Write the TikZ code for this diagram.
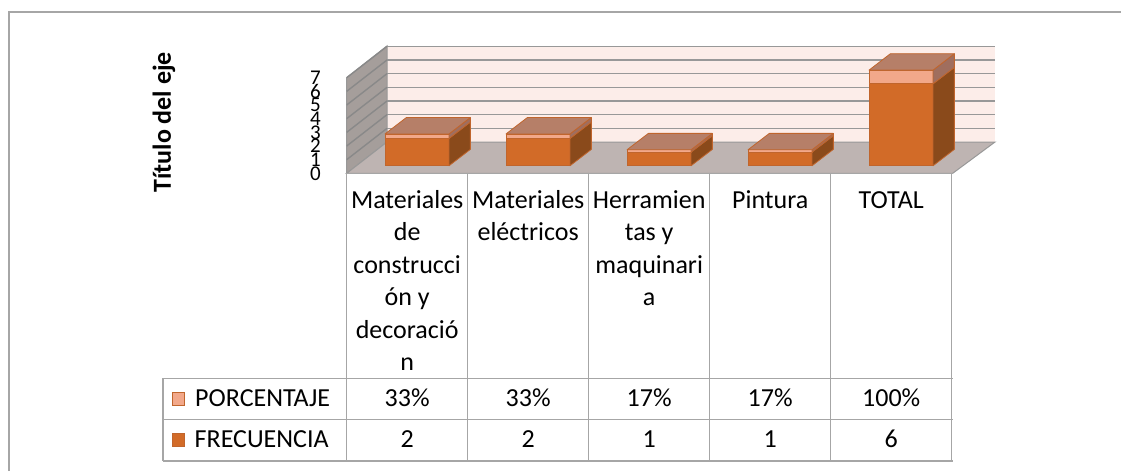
\documentclass[tikz,border=0pt]{standalone}
\usepackage{fontspec}
\setmainfont{Carlito}
\definecolor{cFront}{HTML}{D26B28}
\definecolor{cSide}{HTML}{8A4A1B}
\definecolor{cFrontP}{HTML}{F2A88A}
\definecolor{cSideP}{HTML}{A06E5E}
\definecolor{cTop}{HTML}{B67F68}
\definecolor{cEdge}{HTML}{C0652D}
\definecolor{cWall}{HTML}{FCEDE9}
\definecolor{cSideWall}{HTML}{A59E9B}
\definecolor{cFloor}{HTML}{BEB4B2}
\definecolor{cGrid}{HTML}{989898}
\definecolor{cLine}{HTML}{A6A6A6}
\newcommand{\drawbar}[3]{%
 \pgfmathsetmacro{\bxl}{#1-32+41*0.24}%
 \pgfmathsetmacro{\bxr}{#1+32+41*0.24}%
 \pgfmathsetmacro{\byb}{173.3-31.5*0.24}%
 \pgfmathsetmacro{\byf}{\byb-13.66*#2}%
 \pgfmathsetmacro{\byp}{\byf-13.66*#3}%
 \pgfmathsetmacro{\bdx}{41*0.52}%
 \pgfmathsetmacro{\bdy}{31.5*0.52}%
 \filldraw[frontF] (\bxl,\byb) rectangle (\bxr,\byf);
 \filldraw[sideF] (\bxr,\byb) -- ++(\bdx,-\bdy) -- ({\bxr+\bdx},{\byf-\bdy}) -- (\bxr,\byf) -- cycle;
 \filldraw[frontP] (\bxl,\byf) rectangle (\bxr,\byp);
 \filldraw[sideP] (\bxr,\byf) -- ++(\bdx,-\bdy) -- ({\bxr+\bdx},{\byp-\bdy}) -- (\bxr,\byp) -- cycle;
 \filldraw[topface] (\bxl,\byp) -- (\bxr,\byp) -- ++(\bdx,-\bdy) -- ({\bxl+\bdx},{\byp-\bdy}) -- cycle;
}
\begin{document}
\begin{tikzpicture}[x=1pt,y=-1pt,
  frontF/.style={fill=cFront,draw=cEdge,line width=0.8pt,line join=round},
  sideF/.style={fill=cSide,draw=cEdge,line width=0.8pt,line join=round},
  frontP/.style={fill=cFrontP,draw=cEdge,line width=0.8pt,line join=round},
  sideP/.style={fill=cSideP,draw=cEdge,line width=0.8pt,line join=round},
  topface/.style={fill=cTop,draw=cEdge,line width=0.8pt,line join=round},
  gridline/.style={draw=cGrid,line width=1.6pt},
  tableline/.style={draw=cLine,line width=1.5pt},
  axlab/.style={font=\fontsize{21}{21}\selectfont,inner sep=0pt,anchor=east},
  cell/.style={font=\fontsize{26}{26}\selectfont,inner sep=0pt,anchor=base},
  rowlab/.style={font=\fontsize{26}{26}\selectfont,inner sep=0pt,anchor=base west},
  ]
\useasboundingbox (0,0) rectangle (1121,471);
\fill[white] (0,0) rectangle (1121,471);
% outer frame
\draw[tableline] (9,471) -- (9,12) -- (1121,12);
% back wall
\fill[cWall] (387,46) rectangle (995,142);
\foreach \v in {1,...,7}
  \draw[gridline] (387,{142-13.67*\v}) -- (995,{142-13.67*\v});
% side wall
\filldraw[fill=cSideWall,draw=cGrid,line width=1pt] (346.7,173.3) -- (346.7,77.7) -- (387,46) -- (387,142) -- cycle;
\foreach \v in {1,...,7}
  \draw[draw=cGrid!90!black,line width=1.4pt] (346.7,{173.3-13.66*\v}) -- (387,{142-13.67*\v});
% floor
\filldraw[fill=cFloor,draw=cGrid,line width=1pt] (346.7,173.3) -- (952.7,173.3) -- (995,142) -- (387,142) -- cycle;
% bars
\drawbar{407.2}{2}{0.33}
\drawbar{528.2}{2}{0.33}
\drawbar{649.2}{1}{0.17}
\drawbar{770.2}{1}{0.17}
\drawbar{891.2}{6}{1}
% axis labels
\foreach \v in {0,...,7}
  \node[axlab] (tick\v) at (321,{173.3-13.66*\v}) {\v};
% axis title
\node[font=\fontsize{26}{26}\selectfont\bfseries,rotate=90,inner sep=0pt] (title) at (164,122.3) {Título del eje};
% table lines
\draw[tableline] (346.7,173.3) -- (952.7,173.3);
\foreach \i in {0,...,5}
  \draw[tableline] ({346.7+121*\i},173.3) -- ({346.7+121*\i},461);
\draw[tableline] (163,378.3) -- (952.7,378.3);
\draw[tableline] (163,419.3) -- (952.7,419.3);
\draw[tableline] (163,461) -- (952.7,461);
\draw[tableline] (163,378.3) -- (163,461);
% category labels
\node[cell] (c1a) at (407.2,208) {Materiales};
\node[cell] (c1b) at (407.2,240.5) {de};
\node[cell] (c1c) at (407.2,273) {construcci};
\node[cell] (c1d) at (407.2,305.5) {ón y};
\node[cell] (c1e) at (407.2,338) {decoració};
\node[cell] (c1f) at (407.2,370.5) {n};
\node[cell] (c2a) at (528.2,208) {Materiales};
\node[cell] (c2b) at (528.2,240.5) {eléctricos};
\node[cell] (c3a) at (649.2,208) {Herramien};
\node[cell] (c3b) at (649.2,240.5) {tas y};
\node[cell] (c3c) at (649.2,273) {maquinari};
\node[cell] (c3d) at (649.2,305.5) {a};
\node[cell] (c4a) at (770.2,208) {Pintura};
\node[cell] (c5a) at (891.2,208) {TOTAL};
% legend
\filldraw[fill=cFrontP,draw=cEdge,line width=0.8pt] (172,392) rectangle (184,405);
\node[rowlab] (lp) at (195,406.5) {PORCENTAJE};
\filldraw[fill=cFront,draw=cEdge,line width=0.8pt] (172,433) rectangle (184,446);
\node[rowlab] (lf) at (194.5,447.5) {FRECUENCIA};
% values
\node[cell] (p1) at (407.2,406.5) {33\%};
\node[cell] (p2) at (528.2,406.5) {33\%};
\node[cell] (p3) at (649.2,406.5) {17\%};
\node[cell] (p4) at (770.2,406.5) {17\%};
\node[cell] (p5) at (891.2,406.5) {100\%};
\node[cell] (f1) at (407.2,447.5) {2};
\node[cell] (f2) at (528.2,447.5) {2};
\node[cell] (f3) at (649.2,447.5) {1};
\node[cell] (f4) at (770.2,447.5) {1};
\node[cell] (f5) at (891.2,447.5) {6};
\end{tikzpicture}
\end{document}
